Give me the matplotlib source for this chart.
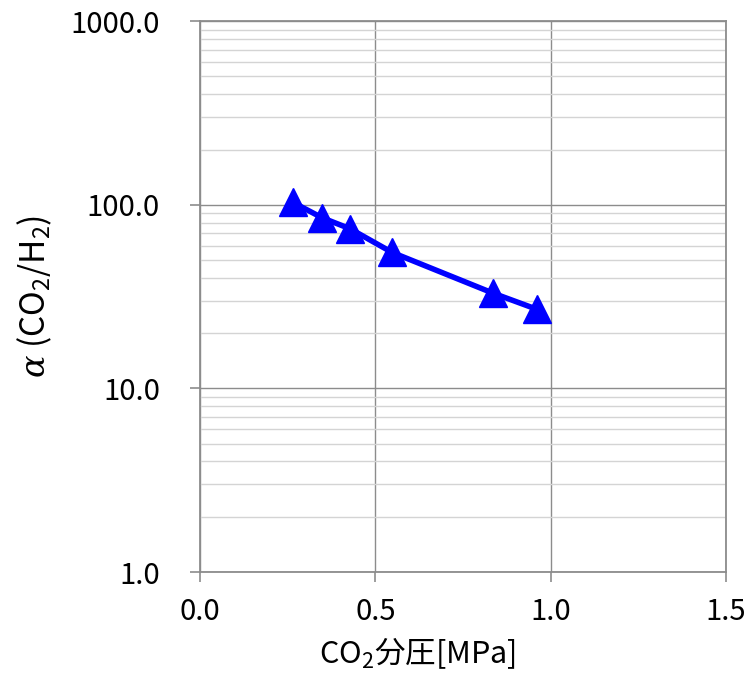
import numpy as np
import matplotlib
matplotlib.use("Agg")
import matplotlib.pyplot as plt
from matplotlib.ticker import FixedLocator, LogLocator, NullFormatter

plt.rcParams['font.family'] = ['Noto Sans CJK JP', 'DejaVu Sans']
plt.rcParams['mathtext.fontset'] = 'custom'
plt.rcParams['mathtext.rm'] = 'Noto Sans CJK JP'
plt.rcParams['mathtext.it'] = 'DejaVu Serif:italic'

# === データ ===
co2_pressure = [0.265, 0.348, 0.428, 0.548, 0.836, 0.960]   # MPa
alpha = [103, 85, 74, 55, 33, 27]                            # CO2/H2 選択比

x_ticks = [0.0, 0.5, 1.0, 1.5]
x_tick_labels = ["0.0", "0.5", "1.0", "1.5"]
y_ticks = [1, 10, 100, 1000]
y_tick_labels = ["1.0", "10.0", "100.0", "1000.0"]

grid_major = '#8c8c8c'
grid_minor = '#d4d4d4'

fig = plt.figure(figsize=(7.55, 6.83), dpi=100)
ax = fig.add_axes([0.265, 0.1625, 0.6965, 0.8065])

ax.plot(co2_pressure, alpha, color='#0000ff', linewidth=4,
        marker='^', markersize=20, zorder=3, clip_on=False)

ax.set_yscale('log')
ax.set_xlim(0, 1.5)
ax.set_ylim(1, 1000)

ax.xaxis.set_major_locator(FixedLocator(x_ticks))
ax.set_xticklabels(x_tick_labels)
ax.yaxis.set_major_locator(FixedLocator(y_ticks))
ax.set_yticklabels(y_tick_labels)
ax.yaxis.set_minor_locator(LogLocator(base=10, subs=np.arange(2, 10)))
ax.yaxis.set_minor_formatter(NullFormatter())

# グリッド
ax.grid(which='major', color=grid_major, linewidth=1.0)
ax.grid(which='minor', axis='y', color=grid_minor, linewidth=1.0)
ax.set_axisbelow(True)

for sp in ax.spines.values():
    sp.set_color(grid_major)
    sp.set_linewidth(1.3)

ax.tick_params(which='major', direction='out', length=7, width=1.2,
               color=grid_major, labelsize=21)
ax.tick_params(which='minor', length=0)
ax.tick_params(axis='y', pad=22)
ax.tick_params(axis='x', pad=11)

ax.set_xlabel("CO$_2$分圧[MPa]", fontsize=22, labelpad=8)
ax.xaxis.set_label_coords(0.414, -0.115)
ax.set_ylabel(r"$\alpha$ (CO$_2$/H$_2$)", fontsize=24, labelpad=12)

fig.savefig("out.png", dpi=100)
